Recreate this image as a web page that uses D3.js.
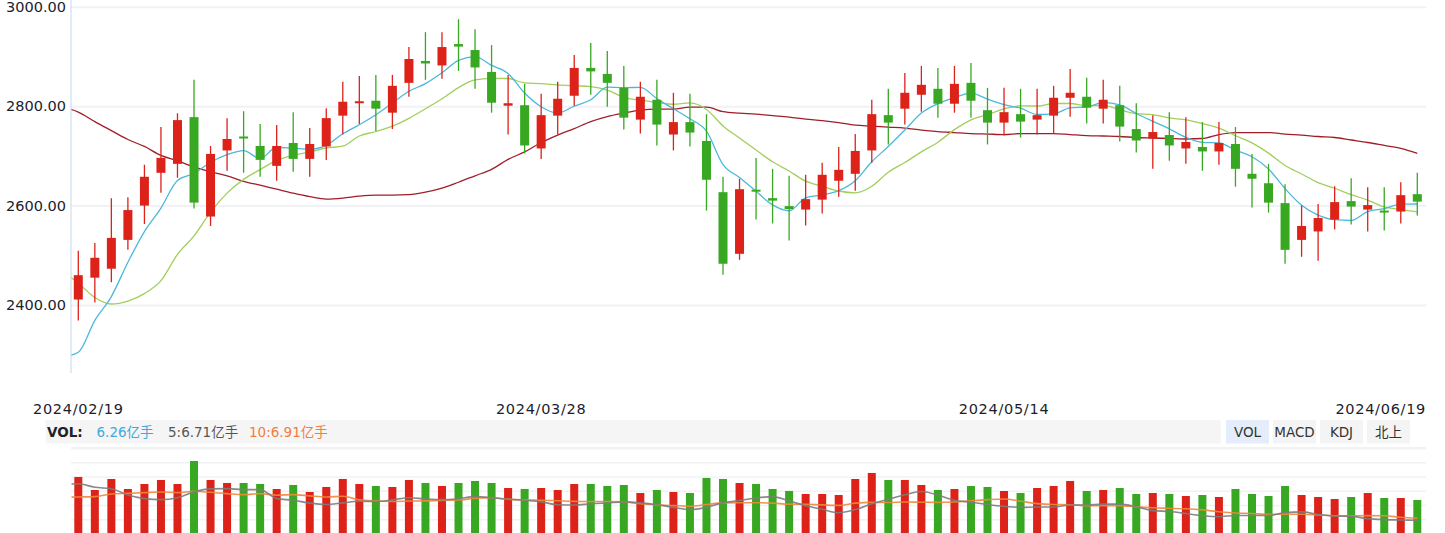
<!DOCTYPE html>
<html><head><meta charset="utf-8">
<script src="https://cdn.jsdelivr.net/npm/d3@7/dist/d3.min.js"></script>
<style>
body{margin:0;background:#fff;}
svg{display:block;font-family:"DejaVu Sans","Noto Sans CJK SC",sans-serif;}
</style>
</head><body>
<svg id="c" width="1445" height="533"></svg>
<script>
// ---------- DATA ----------
const dates = [
 "2024/02/19","2024/02/20","2024/02/21","2024/02/22","2024/02/23","2024/02/26","2024/02/27","2024/02/28","2024/02/29",
 "2024/03/01","2024/03/04","2024/03/05","2024/03/06","2024/03/07","2024/03/08","2024/03/11","2024/03/12","2024/03/13","2024/03/14","2024/03/15",
 "2024/03/18","2024/03/19","2024/03/20","2024/03/21","2024/03/22","2024/03/25","2024/03/26","2024/03/27","2024/03/28","2024/03/29",
 "2024/04/01","2024/04/02","2024/04/03","2024/04/08","2024/04/09","2024/04/10","2024/04/11","2024/04/12","2024/04/15","2024/04/16",
 "2024/04/17","2024/04/18","2024/04/19","2024/04/22","2024/04/23","2024/04/24","2024/04/25","2024/04/26","2024/04/29","2024/04/30",
 "2024/05/06","2024/05/07","2024/05/08","2024/05/09","2024/05/10","2024/05/13","2024/05/14","2024/05/15","2024/05/16","2024/05/17",
 "2024/05/20","2024/05/21","2024/05/22","2024/05/23","2024/05/24","2024/05/27","2024/05/28","2024/05/29","2024/05/30","2024/05/31",
 "2024/06/03","2024/06/04","2024/06/05","2024/06/06","2024/06/07","2024/06/11","2024/06/12","2024/06/13","2024/06/14","2024/06/17",
 "2024/06/18","2024/06/19"];

const opens  = [2412,2456,2474,2532,2601,2667,2685,2779,2579,2712,2740,2721,2681,2727,2695,2720,2782,2808,2812,2788,2848,2892,2883,2926,2914,2870,2802,2803,2716,2782,2822,2878,2866,2838,2774,2814,2744,2769,2731,2628,2504,2633,2616,2600,2593,2613,2651,2665,2712,2783,2796,2824,2836,2806,2848,2793,2768,2785,2774,2782,2818,2820,2796,2803,2755,2736,2743,2716,2719,2710,2725,2665,2646,2606,2532,2549,2573,2610,2593,2591,2589,2624];
const highs  = [2510,2526,2616,2618,2683,2759,2787,2854,2721,2777,2791,2765,2763,2789,2757,2797,2850,2862,2864,2864,2920,2950,2950,2976,2956,2924,2864,2846,2826,2850,2904,2928,2912,2882,2850,2854,2828,2826,2785,2659,2655,2697,2675,2661,2663,2687,2719,2745,2814,2836,2868,2882,2878,2882,2888,2838,2838,2836,2836,2842,2876,2858,2854,2842,2807,2783,2789,2779,2769,2769,2759,2705,2685,2644,2601,2604,2640,2656,2638,2638,2648,2667];
const lows   = [2370,2406,2447,2512,2564,2627,2657,2595,2560,2671,2667,2659,2651,2669,2659,2693,2744,2765,2751,2755,2820,2854,2856,2872,2836,2788,2744,2706,2695,2744,2802,2824,2800,2754,2746,2722,2712,2720,2591,2462,2492,2573,2565,2531,2561,2585,2619,2631,2687,2724,2764,2790,2778,2788,2778,2724,2742,2738,2744,2746,2780,2766,2766,2730,2708,2675,2691,2685,2671,2683,2639,2597,2587,2484,2498,2490,2553,2563,2549,2551,2565,2581];
const closes = [2461,2496,2536,2592,2659,2697,2773,2607,2705,2735,2738,2693,2721,2695,2725,2777,2810,2811,2796,2842,2896,2887,2920,2921,2879,2808,2807,2722,2783,2816,2878,2871,2848,2778,2820,2764,2769,2748,2653,2484,2634,2630,2611,2594,2614,2663,2673,2711,2785,2768,2828,2844,2806,2846,2812,2768,2789,2770,2783,2818,2828,2798,2814,2760,2732,2749,2722,2729,2710,2727,2675,2655,2607,2512,2560,2576,2608,2599,2602,2589,2622,2609];

// moving averages; first value is the session before the first date
const ma5  = [2296,2306,2370,2418,2487,2548.8,2596.0,2651.4,2665.6,2688.2,2703.4,2711.6,2695.6,2718.4,2716.4,2714.4,2722.2,2745.6,2763.6,2783.8,2807.2,2831.0,2846.4,2868.2,2893.2,2900.6,2883.0,2867.0,2827.4,2799.8,2787.2,2801.2,2814.0,2839.2,2838.2,2839.0,2816.2,2795.8,2775.8,2750.8,2683.6,2657.6,2629.8,2602.4,2590.6,2616.6,2622.4,2631.0,2651.0,2689.2,2720.0,2753.0,2787.2,2806.2,2818.4,2827.2,2815.2,2804.2,2797.0,2784.4,2785.6,2797.6,2799.4,2808.2,2803.6,2786.4,2770.6,2755.4,2738.4,2728.4,2727.4,2712.6,2699.2,2674.8,2635.2,2601.8,2582.0,2572.6,2571.0,2589.0,2594.8,2604.0,2604.2];
const ma10 = [2470,2445,2416,2403,2409,2424,2450,2503,2540,2588,2626.1,2653.8,2673.5,2692.0,2702.3,2708.9,2716.9,2720.6,2741.0,2750.1,2760.8,2776.6,2796.0,2815.9,2838.5,2853.9,2857.0,2856.7,2847.8,2846.5,2843.9,2842.1,2840.5,2833.3,2819.0,2813.1,2808.7,2804.9,2807.5,2794.5,2761.3,2736.9,2712.8,2689.1,2670.7,2650.1,2640.0,2630.4,2626.7,2639.9,2668.3,2687.7,2709.1,2728.6,2753.8,2773.6,2784.1,2795.7,2801.6,2801.4,2806.4,2806.4,2801.8,2802.6,2794.0,2786.0,2784.1,2777.4,2773.3,2766.0,2756.9,2741.6,2727.3,2706.6,2681.8,2664.6,2647.3,2635.9,2622.9,2612.1,2598.3,2593.0,2588.4];
const ma30 = [2800,2789,2770,2752,2734,2720,2702,2691,2679,2669,2661,2650,2642,2634,2626,2619,2614,2616,2620,2622,2622,2623,2628,2636,2648,2661,2674,2694,2709,2728,2743,2756,2770,2780,2787,2793,2795,2795,2799,2799,2790,2787,2785,2782,2779,2775,2772,2768,2763,2761,2759,2757,2753,2750,2748,2746,2745,2744,2746,2746,2746,2744,2742,2741,2740,2738,2737,2736,2735,2736,2744,2748,2748,2748,2745,2743,2740,2738,2733,2728,2722,2716,2706];

// volume, 亿手
const volumes = [10.63,8.16,10.25,8.35,9.30,10.06,9.30,13.66,10.06,9.49,9.49,9.30,8.35,9.11,7.78,8.73,10.25,9.30,8.92,8.73,10.06,9.49,8.92,9.49,9.87,9.49,8.54,8.35,8.54,8.16,9.30,9.30,8.92,9.11,7.59,8.16,7.78,7.59,10.44,10.25,9.49,9.30,8.35,7.97,7.40,7.40,7.21,10.25,11.39,10.06,10.06,9.11,8.16,8.35,8.92,8.73,7.97,7.59,8.54,8.92,9.87,7.97,8.16,8.54,7.40,7.59,7.40,7.02,7.21,6.83,8.35,7.40,7.02,8.92,7.21,6.83,6.45,6.83,7.59,6.64,6.64,6.26];
const volMa5  = [11.0,11.09,10.67,10.51,9.76,9.34,9.22,9.45,10.13,10.48,10.51,10.40,10.40,9.34,9.15,8.81,8.65,8.84,9.03,9.00,9.19,9.45,9.30,9.22,9.34,9.57,9.45,9.26,9.15,8.96,8.62,8.58,8.73,8.84,8.96,8.84,8.62,8.31,8.05,8.31,8.84,9.11,9.41,9.57,9.07,8.50,8.08,7.67,8.05,8.73,9.26,9.79,10.17,9.76,9.15,8.92,8.65,8.43,8.31,8.35,8.35,8.58,8.58,8.69,8.69,8.39,7.93,7.82,7.59,7.32,7.21,7.36,7.36,7.36,7.70,7.78,7.48,7.29,7.25,6.98,6.87,6.83,6.79];
const volMa10 = [9.5,9.53,9.57,9.88,9.96,10.04,10.12,10.04,10.2,10.08,9.93,9.81,9.93,9.74,9.81,9.66,9.53,9.62,9.19,9.07,9.00,9.05,9.07,9.13,9.17,9.38,9.45,9.28,9.19,9.15,9.09,9.02,9.00,9.00,8.96,8.73,8.60,8.52,8.45,8.64,8.84,8.86,8.86,8.81,8.69,8.67,8.60,8.54,8.81,8.90,8.88,8.94,8.92,8.90,8.94,9.09,9.22,9.30,9.03,8.75,8.64,8.62,8.50,8.50,8.52,8.37,8.26,8.20,8.14,8.01,7.80,7.65,7.59,7.48,7.51,7.50,7.42,7.32,7.31,7.34,7.32,7.15,7.04];

const yTicks = [3000, 2800, 2600, 2400];
const xTickIdx = [0, 28, 56, 81];
const volLabel = "VOL:";
const volLegend = ["6.26亿手", "5:6.71亿手", "10:6.91亿手"];
const tabs = ["VOL", "MACD", "KDJ", "北上"];

// ---------- DRAW ----------
const RED = "#dc2219", GREEN = "#38a822";
const svg = d3.select("#c");
const left = 71, right = 1426;

const x = d3.scaleLinear().domain([0, closes.length - 1]).range([78.3, 1417.3]);
const y = d3.scaleLinear().domain([2400, 3000]).range([305.5, 7.3]);

const defs = svg.append("defs");
defs.append("clipPath").attr("id", "clipMain").append("rect")
  .attr("x", left + 0.5).attr("y", 0).attr("width", right - left + 5).attr("height", 373);
defs.append("clipPath").attr("id", "clipVol").append("rect")
  .attr("x", left + 0.5).attr("y", 450).attr("width", right - left + 5).attr("height", 90);

// grid
svg.append("g").selectAll("line").data(yTicks).join("line")
  .attr("x1", left).attr("x2", right)
  .attr("y1", d => y(d)).attr("y2", d => y(d))
  .attr("stroke", "#f0f2f6").attr("stroke-width", 2);

svg.append("g").selectAll("text").data(yTicks).join("text")
  .attr("x", 6).attr("y", d => y(d) + 4.5)
  .attr("font-size", 14.5).attr("fill", "#1b1d2e")
  .text(d => d3.format(".2f")(d));

svg.append("line").attr("x1", left).attr("x2", left).attr("y1", 0).attr("y2", 373)
  .attr("stroke", "#c6d6ee").attr("stroke-width", 1);

const gMain = svg.append("g").attr("clip-path", "url(#clipMain)");

const line = d3.line().x((d, i) => x(i - 1)).y(d => y(d)).curve(d3.curveMonotoneX);
[[ma30, "#a01e28"], [ma10, "#a2ce5c"], [ma5, "#4cb8dc"]].forEach(([arr, c]) => {
  gMain.append("path").datum(arr).attr("d", line)
    .attr("fill", "none").attr("stroke", c).attr("stroke-width", 1.3);
});

const idx = d3.range(closes.length);
const col = i => closes[i] >= opens[i] ? RED : GREEN;

gMain.append("g").selectAll("line").data(idx).join("line")
  .attr("x1", i => x(i)).attr("x2", i => x(i))
  .attr("y1", i => y(highs[i])).attr("y2", i => y(lows[i]))
  .attr("stroke", col).attr("stroke-width", 1.3);

gMain.append("g").selectAll("rect").data(idx).join("rect")
  .attr("x", i => x(i) - 4.5).attr("width", 9)
  .attr("y", i => Math.min(y(opens[i]), y(closes[i])))
  .attr("height", i => Math.max(2, Math.abs(y(opens[i]) - y(closes[i]))))
  .attr("fill", col);

// x labels
svg.append("g").selectAll("text").data(xTickIdx).join("text")
  .attr("x", (d, k) => k === xTickIdx.length - 1 ? right : x(d))
  .attr("y", 414)
  .attr("text-anchor", (d, k) => k === xTickIdx.length - 1 ? "end" : "middle")
  .attr("font-size", 14.5).attr("letter-spacing", 0.7).attr("fill", "#1b1d2e")
  .text(d => dates[d]);

// volume info bar
svg.append("rect").attr("x", 45.7).attr("y", 420).attr("width", 1175).attr("height", 23.5).attr("fill", "#f5f5f5");
svg.append("text").attr("x", 47).attr("y", 436.5).attr("font-size", 13.5).attr("font-weight", "bold")
  .attr("fill", "#222").text(volLabel);
const legendX = [96.5, 168, 249], legendC = ["#3ea8dc", "#555555", "#f07e3e"];
svg.append("g").selectAll("text").data(volLegend).join("text")
  .attr("x", (d, i) => legendX[i]).attr("y", 436.5).attr("font-size", 13.5)
  .attr("fill", (d, i) => legendC[i]).text(d => d);

const tabG = svg.append("g").selectAll("g").data(tabs).join("g")
  .attr("transform", (d, i) => `translate(${1226 + i * 47},420)`);
tabG.append("rect").attr("width", 43).attr("height", 23.5)
  .attr("fill", (d, i) => i === 0 ? "#e4edf9" : "#f4f4f4");
tabG.append("text").attr("x", 21.5).attr("y", 16.5).attr("text-anchor", "middle")
  .attr("font-size", 13.5).attr("fill", "#333").text(d => d);

// volume panel
svg.append("rect").attr("x", left).attr("y", 447).attr("width", right - left).attr("height", 2.5).attr("fill", "#f2f2f4");
svg.append("g").selectAll("line").data(d3.range(5)).join("line")
  .attr("x1", left).attr("x2", right)
  .attr("y1", k => 462.7 + k * 14.25).attr("y2", k => 462.7 + k * 14.25)
  .attr("stroke", "#f1f2f5").attr("stroke-width", 1.5);

const vy = d3.scaleLinear().domain([0, d3.max(volumes)]).range([533, 461]);
const vly = d3.scaleLinear().domain([6, 11.5]).range([527, 480.25]);

const gVol = svg.append("g").attr("clip-path", "url(#clipVol)");
gVol.append("g").selectAll("rect").data(idx).join("rect")
  .attr("x", i => x(i) - 4).attr("width", 8)
  .attr("y", i => vy(volumes[i])).attr("height", i => 533 - vy(volumes[i]))
  .attr("fill", col);

const vline = d3.line().x((d, i) => x(i - 1)).y(d => vly(d)).curve(d3.curveMonotoneX);
[[volMa10, "#f0873a"], [volMa5, "#7c7c7c"]].forEach(([arr, c]) => {
  gVol.append("path").datum(arr).attr("d", vline)
    .attr("fill", "none").attr("stroke", c).attr("stroke-width", 1.6).attr("stroke-opacity", 0.9);
});
</script>
</body></html>
